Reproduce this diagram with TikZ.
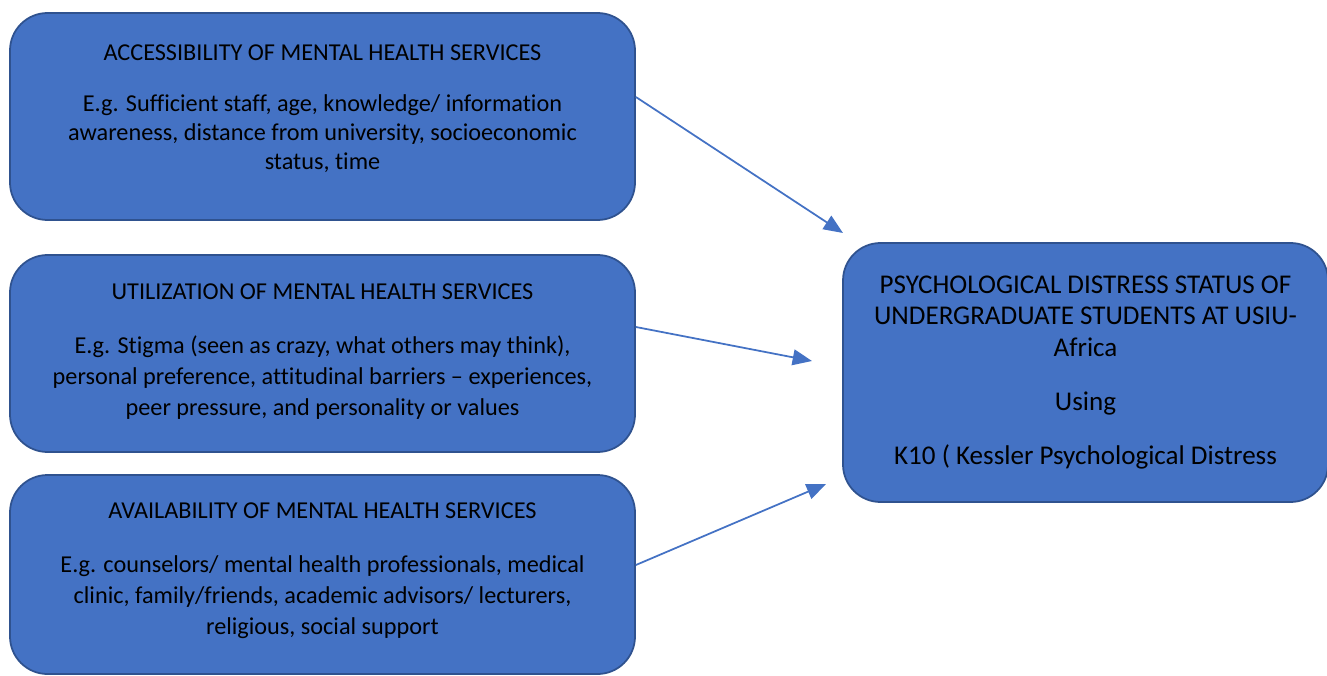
\documentclass[tikz,border=0pt]{standalone}
\usepackage{fontspec}
\setmainfont[Ligatures={NoCommon}]{Carlito}
\usetikzlibrary{arrows.meta,positioning}
\definecolor{boxfill}{HTML}{4472C4}
\definecolor{boxline}{HTML}{2F528F}
\newcommand{\lowstrut}[1]{\rule[-#1]{0pt}{#1}}
\tikzset{%
  factor/.style={rectangle,rounded corners=0.75cm,draw=boxline,line width=1pt,
    fill=boxfill,minimum width=12.5cm,align=center,
    font=\fontsize{13.8}{16.5}\selectfont},
  loose/.style={font=\fontsize{13.8}{17.6}\selectfont},
  outcome/.style={rectangle,rounded corners=0.75cm,draw=boxline,line width=1pt,
    fill=boxfill,minimum width=9.7cm,minimum height=5.18cm,align=center,
    font=\fontsize{15.4}{18}\selectfont},
  link/.style={draw=boxfill,line width=1pt,-{Triangle[length=11pt,width=9pt]}}
}

\begin{document}
\begin{tikzpicture}
  \useasboundingbox (0,0) rectangle (26.54,13.5);

  \node [factor,minimum height=4.14cm] (acc) at (6.45,11.17)
    {ACCESSIBILITY OF MENTAL HEALTH SERVICES\\[0.44cm]
     E.g. Sufficient staff, age, knowledge/ information\\
     awareness, distance from university, socioeconomic\\
     status, time\lowstrut{0.36cm}};
  \node [factor,loose,minimum height=3.94cm] (util) [below of=acc,node distance=4.74cm]
    {UTILIZATION OF MENTAL HEALTH SERVICES\\[0.46cm]
     E.g. Stigma (seen as crazy, what others may think),\\
     personal preference, attitudinal barriers \textendash{} experiences,\\
     peer pressure, and personality or values\lowstrut{0.16cm}};
  \node [factor,loose,minimum height=3.98cm] (avail) [below of=util,node distance=4.42cm]
    {AVAILABILITY OF MENTAL HEALTH SERVICES\\[0.46cm]
     E.g. counselors/ mental health professionals, medical\\
     clinic, family/friends, academic advisors/ lecturers,\\
     religious, social support\lowstrut{0.24cm}};

  \node [outcome] (psy) at (21.71,6.05)
    {PSYCHOLOGICAL DISTRESS STATUS OF\\
     UNDERGRADUATE STUDENTS AT USIU-\\
     Africa\\[0.45cm]
     Using\\[0.45cm]
     K10 ( Kessler Psychological Distress};

  \coordinate (a1) at (16.86,8.84);
  \coordinate (a2) at (16.24,6.28);
  \coordinate (a3) at (16.52,3.82);

  \draw [link] ([yshift=0.39cm]acc.east) -- (a1);
  \draw [link] ([yshift=0.53cm]util.east) -- (a2);
  \draw [link] ([yshift=0.19cm]avail.east) -- (a3);
\end{tikzpicture}
\end{document}
